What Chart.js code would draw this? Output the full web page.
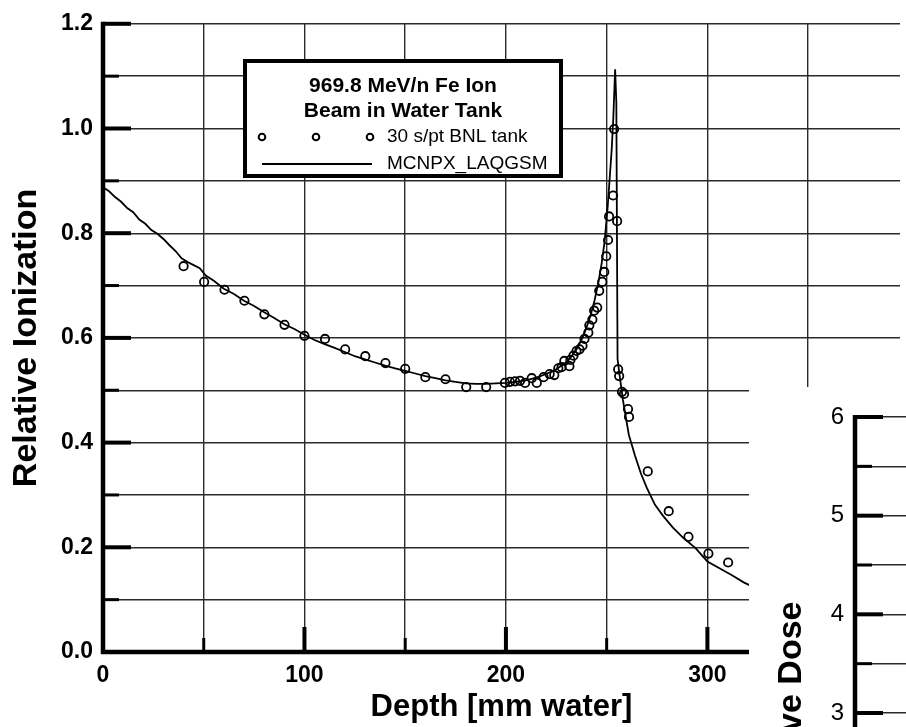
<!DOCTYPE html>
<html>
<head>
<meta charset="utf-8">
<script src="https://cdn.jsdelivr.net/npm/chart.js@4.4.1/dist/chart.umd.min.js"></script>
<style>
	body { margin:0; background:#fff; }
	#wrap { position:relative; width:906px; height:727px; overflow:hidden; }
	#ion { display:block; }
	#dose-box { position:absolute; left:749px; top:387px; width:157px; height:340px; overflow:hidden; background:#fff; }
	#dose { display:block; }
</style>
</head>
<body>
<div id="wrap">
	<canvas id="ion" width="906" height="727"></canvas>
	<div id="dose-box"><canvas id="dose" width="157" height="700"></canvas></div>
</div>
<script>
// measured points (30 s/pt, BNL tank)
var depthMeas = [40, 50.2, 60.3, 70.2, 80.1, 90.1, 100, 110.2, 120.2, 130.2, 140.2, 150, 160, 170, 180.3, 190.2,
	199.5, 202, 204.5, 207, 209.5, 212.8, 215.3, 218.7, 221.7, 224, 226, 227.6, 229, 231.5, 232, 233.5, 235, 236.5,
	238, 239, 240.9, 241.4, 242.9, 243.8, 245.3, 246.3, 247.8, 248.8, 249.8, 250.7, 251.2, 253.2, 253.7, 255.2,
	255.7, 256.2, 257.6, 258.6, 260.6, 261.1, 270.4, 280.8, 290.6, 300.5, 310.3];
var ionMeas = [0.737, 0.707, 0.692, 0.671, 0.645, 0.625, 0.604, 0.598, 0.578, 0.565, 0.552, 0.541, 0.525, 0.521, 0.506, 0.506,
	0.514, 0.516, 0.517, 0.518, 0.514, 0.523, 0.514, 0.525, 0.531, 0.529, 0.542, 0.544, 0.556, 0.546, 0.558, 0.566, 0.575, 0.578,
	0.585, 0.598, 0.610, 0.624, 0.635, 0.652, 0.658, 0.690, 0.707, 0.726, 0.756, 0.787, 0.832, 0.872, 0.999, 0.823,
	0.540, 0.527, 0.497, 0.493, 0.464, 0.449, 0.345, 0.269, 0.220, 0.188, 0.171];

// MCNPX_LAQGSM calculation
var depthMC = [0, 3, 6, 9, 12, 15, 18, 21, 24, 27, 30, 33, 36, 39, 42, 45, 48, 51, 55, 60, 65, 70, 75, 80, 85, 90, 95,
	100, 105, 110, 115, 120, 125, 130, 135, 140, 145, 150, 155, 160, 165, 170, 175, 180, 185, 190, 195, 200, 205, 210,
	215, 220, 225, 229, 232, 235, 238, 240, 242, 244, 246, 247.5, 249, 250.5, 251.5, 252.5, 253.3, 254.2, 254.8, 255.4,
	256.2, 258, 261, 264, 267, 270, 274, 278, 283, 288, 294, 300, 306, 312, 318, 325];
var ionMC = [0.888, 0.880, 0.869, 0.860, 0.848, 0.840, 0.826, 0.818, 0.806, 0.799, 0.789, 0.777, 0.766, 0.752, 0.745, 0.739, 0.733, 0.719, 0.709, 0.694, 0.684, 0.671, 0.661, 0.649, 0.638, 0.626, 0.617,
	0.606, 0.596, 0.588, 0.581, 0.573, 0.565, 0.559, 0.553, 0.547, 0.542, 0.537, 0.532, 0.527, 0.523, 0.519, 0.516, 0.513, 0.512, 0.512, 0.513, 0.514, 0.516, 0.519,
	0.524, 0.531, 0.540, 0.551, 0.562, 0.578, 0.600, 0.620, 0.643, 0.672, 0.708, 0.742, 0.785, 0.850, 0.905, 0.960, 1.020, 1.113, 1.050, 0.560,
	0.535, 0.483, 0.415, 0.376, 0.341, 0.313, 0.281, 0.260, 0.237, 0.218, 0.199, 0.173, 0.160, 0.147, 0.133, 0.120];

var legendTitle = ["969.8 MeV/n Fe Ion", "Beam in Water Tank"];
var xTitle = "Depth [mm water]";
var yTitle = "Relative Ionization";
var doseTitle = "Relative Dose";

var FONT = "'Liberation Sans', Arial, sans-serif";
Chart.defaults.font.family = FONT;
Chart.defaults.color = "#000";

function isMult(v, step) {
	var r = v / step;
	return Math.abs(r - Math.round(r)) < 1e-6;
}

// thick axes + inward tick marks (major/minor), like the original plot
var axisTicks = {
	id: "axisTicks",
	afterDatasetsDraw(chart, args, o) {
		var ctx = chart.ctx, a = chart.chartArea, xs = chart.scales.x, ys = chart.scales.y;
		var x0 = xs.getPixelForValue(xs.min), y0 = ys.getPixelForValue(ys.min);
		ctx.save();
		ctx.strokeStyle = "#000";
		ctx.lineCap = "butt";
		ys.ticks.forEach(t => {
			var py = ys.getPixelForValue(t.value);
			var major = isMult(t.value, o.yMajor);
			ctx.lineWidth = major ? 4 : 3;
			ctx.beginPath();
			ctx.moveTo(x0, py);
			ctx.lineTo(x0 + (major ? o.majorLen : o.minorLen), py);
			ctx.stroke();
		});
		if (o.xMajor) {
			xs.ticks.forEach(t => {
				var px = xs.getPixelForValue(t.value);
				var major = isMult(t.value, o.xMajor);
				ctx.lineWidth = major ? 4 : 3;
				ctx.beginPath();
				ctx.moveTo(px, y0);
				ctx.lineTo(px, y0 - (major ? o.majorLen - 3 : o.minorLen - 2));
				ctx.stroke();
			});
			ctx.lineWidth = 4.5;
			ctx.beginPath();
			ctx.moveTo(x0 - 2, y0);
			ctx.lineTo(a.right, y0);
			ctx.stroke();
		}
		ctx.lineWidth = 4.5;
		ctx.beginPath();
		ctx.moveTo(x0, a.top - 2);
		ctx.lineTo(x0, o.xMajor ? y0 + 2 : a.bottom + 40);
		ctx.stroke();
		ctx.restore();
	}
};

// boxed legend inside the plot
var boxLegend = {
	id: "boxLegend",
	afterDraw(chart) {
		var ctx = chart.ctx;
		var ds = chart.data.datasets;
		ctx.save();
		ctx.fillStyle = "#fff";
		ctx.fillRect(245, 61, 316, 115);
		ctx.strokeStyle = "#000";
		ctx.lineWidth = 4;
		ctx.strokeRect(245, 61, 316, 115);

		ctx.fillStyle = "#000";
		ctx.textAlign = "center";
		ctx.textBaseline = "middle";
		ctx.font = "bold 21px " + FONT;
		ctx.fillText(legendTitle[0], 403, 86);
		ctx.fillText(legendTitle[1], 403, 111);

		ctx.lineWidth = 2;
		[262, 316, 370].forEach(cx => {
			ctx.beginPath();
			ctx.arc(cx, 137, 3.3, 0, Math.PI * 2);
			ctx.stroke();
		});
		ctx.beginPath();
		ctx.moveTo(262, 164);
		ctx.lineTo(372, 164);
		ctx.stroke();

		ctx.textAlign = "left";
		ctx.font = "19px " + FONT;
		ctx.fillText(ds[0].label, 387, 137);
		ctx.fillText(ds[1].label, 387, 164);
		ctx.restore();
	}
};

var GRID = "#2b2b2b";

new Chart(document.getElementById("ion"), {
	type: "scatter",
	data: {
		datasets: [{
			label: "30 s/pt BNL tank",
			data: depthMeas.map((d, i) => ({x: d, y: ionMeas[i]})),
			showLine: false,
			pointRadius: 4.2,
			pointBorderWidth: 1.8,
			pointBorderColor: "#000",
			pointBackgroundColor: "rgba(0,0,0,0)"
		}, {
			label: "MCNPX_LAQGSM",
			data: depthMC.map((d, i) => ({x: d, y: ionMC[i]})),
			showLine: true,
			pointRadius: 0,
			borderColor: "#000",
			borderWidth: 1.8,
			tension: 0
		}]
	},
	options: {
		responsive: false,
		animation: false,
		layout: {padding: {top: 19, right: 0, bottom: 0, left: 0}},
		plugins: {
			legend: {display: false},
			tooltip: {enabled: false},
			axisTicks: {xMajor: 100, yMajor: 0.2, majorLen: 28, minorLen: 16}
		},
		scales: {
			x: {
				type: "linear",
				min: 0,
				max: 395.6,
				border: {display: false},
				grid: {color: GRID, lineWidth: 1.4, drawTicks: false},
				ticks: {
					stepSize: 50,
					includeBounds: false,
					autoSkip: false,
					maxRotation: 0,
					padding: 10,
					font: {size: 23, weight: "bold"},
					callback: v => isMult(v, 100) ? String(Math.round(v)) : ""
				},
				title: {display: true, text: xTitle, font: {size: 31, weight: "bold", lineHeight: 1}, padding: {top: 0, bottom: 4}},
				afterFit: s => { s.height = 75; }
			},
			y: {
				min: 0,
				max: 1.2,
				border: {display: false},
				grid: {color: GRID, lineWidth: 1.4, drawTicks: false},
				ticks: {
					stepSize: 0.1,
					autoSkip: false,
					padding: 10,
					font: {size: 23, weight: "bold"},
					callback: v => isMult(v, 0.2) ? v.toFixed(1) : ""
				},
				title: {display: true, text: yTitle, font: {size: 34, weight: "bold", lineHeight: 1}, padding: {top: 10, bottom: 0}},
				afterFit: s => { s.width = 103; }
			}
		}
	},
	plugins: [axisTicks, boxLegend]
});

// second (cropped) plot overlapping the lower right corner
new Chart(document.getElementById("dose"), {
	type: "scatter",
	data: {datasets: []},
	options: {
		responsive: false,
		animation: false,
		layout: {padding: {top: 30, right: 0, bottom: 78, left: 0}},
		plugins: {
			legend: {display: false},
			tooltip: {enabled: false},
			axisTicks: {yMajor: 1, majorLen: 28, minorLen: 17}
		},
		scales: {
			x: {type: "linear", min: 0, max: 1, display: false},
			y: {
				min: 0,
				max: 6,
				border: {display: false},
				grid: {color: GRID, lineWidth: 1.4, drawTicks: false},
				ticks: {
					stepSize: 0.5,
					autoSkip: false,
					padding: 11,
					font: {size: 24},
					callback: v => isMult(v, 1) ? String(Math.round(v)) : ""
				},
				title: {display: true, text: doseTitle, font: {size: 34, weight: "bold", lineHeight: 1}, padding: {top: 26, bottom: 0}},
				afterFit: s => { s.width = 106; }
			}
		}
	},
	plugins: [axisTicks]
});
</script>
</body>
</html>
